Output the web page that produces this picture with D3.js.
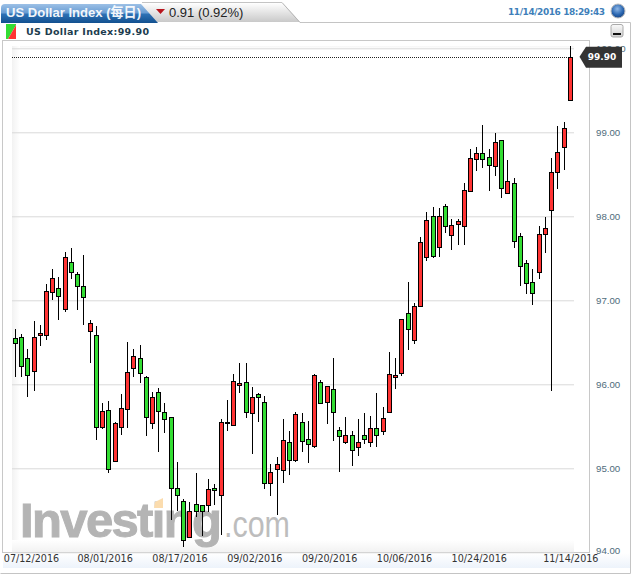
<!DOCTYPE html>
<html><head><meta charset="utf-8">
<script src="https://cdn.jsdelivr.net/npm/d3@7/dist/d3.min.js"></script>
<style>html,body{margin:0;padding:0;background:#fff;overflow:hidden}svg{display:block}</style>
</head><body><svg id="c" width="634" height="575"></svg>
<script>
const title = "US Dollar Index (每日)";
const changeText = "0.91 (0.92%)";
const stamp = "11/14/2016 18:29:43";
const legendText = "US Dollar Index:99.90";
const lastPrice = 99.90;
const yTicks = [94,95,96,97,98,99,100];
const dateLabels = ["07/12/2016","08/01/2016","08/17/2016","09/02/2016","09/20/2016","10/06/2016","10/24/2016","11/14/2016"];
const dateIndex = [0,14,26,38,50,62,74,89];
const opens = [96.548,96.560,96.310,96.155,96.590,96.590,97.095,97.143,96.893,97.452,97.310,97.167,96.638,96.583,95.488,95.698,95.083,95.488,95.702,96.190,96.310,96.083,95.536,95.905,95.667,95.607,94.762,94.607,94.179,94.571,94.560,94.560,94.762,94.679,95.536,95.519,95.988,96.024,95.655,95.881,95.786,94.821,94.988,94.976,95.310,95.095,95.548,95.345,95.262,96.024,95.786,95.940,95.452,95.310,95.393,95.250,95.393,95.310,95.476,95.440,95.667,96.083,96.138,96.845,96.524,96.929,97.512,98.000,97.631,98.119,97.774,97.905,97.881,98.298,98.679,98.750,98.702,98.595,98.905,98.274,98.393,97.762,97.440,97.214,97.333,97.786,98.071,98.524,98.821,99.381];
const highs = [96.658,96.599,96.420,96.750,96.710,97.190,97.369,97.277,97.575,97.619,97.333,97.539,96.765,96.698,95.774,95.805,95.551,95.881,96.500,96.420,96.468,96.099,95.912,95.960,95.774,95.611,95.079,94.631,94.599,94.940,94.563,94.869,94.813,95.583,95.810,96.119,96.250,96.250,95.971,95.893,95.861,95.048,95.138,95.583,95.448,95.670,95.662,95.563,96.119,96.051,95.980,96.310,95.488,95.607,95.440,95.583,95.662,95.619,95.893,95.726,96.388,96.310,96.777,97.218,96.964,97.750,98.048,98.114,98.095,98.143,97.964,97.964,98.393,98.798,98.821,99.083,98.801,98.995,98.908,98.667,98.452,97.798,97.480,97.376,97.881,97.988,98.690,99.071,99.123,100.024];
const lows = [96.083,96.090,95.845,95.924,96.452,96.531,97.007,96.769,96.864,97.250,96.888,96.710,96.254,95.333,95.468,94.940,95.079,95.396,95.483,96.090,96.019,95.385,95.464,95.190,95.424,94.385,94.492,94.060,94.179,94.424,94.198,94.476,94.563,94.206,95.444,95.515,95.893,95.595,95.174,95.555,94.757,94.674,94.444,94.825,94.924,95.071,95.190,95.060,95.238,95.774,95.531,95.325,94.952,95.286,95.024,95.143,95.286,95.250,95.250,95.393,95.667,95.940,96.102,96.408,96.480,96.929,97.471,97.507,97.519,97.798,97.595,97.655,97.655,98.298,98.536,98.571,98.305,98.476,98.214,98.274,97.619,97.174,97.071,96.940,97.250,97.560,95.920,98.321,98.548,99.381];
const closes = [96.488,96.214,96.107,96.560,96.611,97.107,97.262,97.048,97.512,97.333,97.167,97.036,96.726,95.488,95.679,94.988,95.536,95.714,96.143,96.340,96.131,95.607,95.845,95.679,95.590,94.762,94.686,94.143,94.488,94.495,94.495,94.750,94.738,95.548,95.551,96.036,96.012,95.667,95.845,95.845,94.821,94.952,95.048,95.333,95.095,95.643,95.321,95.286,96.107,95.774,95.976,95.667,95.381,95.393,95.214,95.310,95.345,95.476,95.393,95.595,96.119,96.107,96.774,96.655,96.929,97.690,97.952,97.524,98.000,97.881,97.893,97.940,98.310,98.690,98.750,98.679,98.607,98.881,98.333,98.417,97.702,97.405,97.202,97.083,97.786,97.857,98.524,98.762,99.048,99.893];

const svg = d3.select("#c");
const defs = svg.append("defs");
function grad(id, stops, horiz){
  const g = defs.append("linearGradient").attr("id",id).attr("x1",0).attr("y1",0).attr("x2",horiz?1:0).attr("y2",horiz?0:1);
  stops.forEach(s=>g.append("stop").attr("offset",s[0]).attr("stop-color",s[1]));
}
grad("blue",[[0,"#9cc0e6"],[.45,"#6b9ed4"],[.55,"#2d70b4"],[1,"#12508f"]]);
grad("gray",[[0,"#ffffff"],[1,"#c9c9c9"]]);
grad("left",[[0,"#f2f2f2"],[1,"#ffffff"]],true);
grad("top",[[0,"#f6f6f6"],[1,"#ffffff"]]);
grad("bottom",[[0,"#ffffff"],[1,"#f2f2f2"]]);
grad("foot",[[0,"#ffffff"],[1,"#edf3fb"]]);
grad("btn",[[0,"#fafafa"],[1,"#cfcfcf"]]);
const globe = defs.append("radialGradient").attr("id","globe").attr("cx",.45).attr("cy",.35).attr("r",.7);
globe.append("stop").attr("offset",0).attr("stop-color","#8fb8e8");
globe.append("stop").attr("offset",.6).attr("stop-color","#2a66b0");
globe.append("stop").attr("offset",1).attr("stop-color","#123f7e");

const left=12, right=574, plotL=2.5, plotR=589.5, plotT=40.5, plotB=552.5;
const x = d3.scaleLinear().domain([0,89]).range([15.3,570.3]);
const y = d3.scaleLinear().domain([94,100]).range([552.3,48.3]);

// frame
svg.append("path").attr("d","M300,22.5H630.5V573.5H0.5").attr("fill","none").attr("stroke","#c4c4c4");
svg.append("rect").attr("x",3).attr("y",553).attr("width",627).attr("height",15).attr("fill","url(#foot)");
svg.append("path").attr("d","M142,3 L282,3 Q284,3 286,6 L300,22 L142,22Z").attr("fill","url(#gray)");
svg.append("path").attr("d","M282,2.5 L300,22.5").attr("stroke","#b5b5b5").attr("fill","none");
svg.append("path").attr("d","M142,2.5H282").attr("stroke","#c4c4c4");
svg.append("path").attr("d","M1,8 Q1,4 5,4 L141,4 L158,23 L1,23Z").attr("fill","url(#blue)");
svg.append("text").attr("x",6).attr("y",16.5).attr("fill","#fff").attr("font-family","'Liberation Sans','Noto Sans CJK SC',sans-serif").attr("font-weight","bold").attr("font-size",13.5).attr("textLength",135).attr("lengthAdjust","spacingAndGlyphs").style("opacity",.92).text(title);
svg.append("path").attr("d","M156,9H165L160.5,14Z").attr("fill","#b8141c");
svg.append("text").attr("x",169).attr("y",16.5).attr("fill","#222").attr("font-family","'Liberation Sans',sans-serif").attr("font-size",13).text(changeText);
svg.append("text").attr("x",508).attr("y",15).attr("fill","#3f7fba").attr("font-family","'DejaVu Sans',sans-serif").attr("font-weight","bold").attr("font-size",9).attr("textLength",97).text(stamp);
svg.append("circle").attr("cx",618).attr("cy",11).attr("r",7).attr("fill","url(#globe)").attr("stroke","#bbb");

// legend
svg.append("path").attr("d","M6,24H16V25L8,39H6Z").attr("fill","#33dd33");
svg.append("path").attr("d","M16,25V39H8Z").attr("fill","#ff3333");
svg.append("text").attr("x",26).attr("y",35).attr("fill","#203c4e").attr("font-family","'DejaVu Sans',sans-serif").attr("font-weight","bold").attr("font-size",9.5).attr("textLength",123).text(legendText);

// plot
svg.append("rect").attr("x",plotL).attr("y",plotT).attr("width",plotR-plotL).attr("height",plotB-plotT).attr("fill","#fff").attr("stroke","#c8c8c8");
svg.append("rect").attr("x",left).attr("y",46).attr("width",562).attr("height",3).attr("fill","url(#top)");
svg.append("rect").attr("x",left).attr("y",46).attr("width",8).attr("height",506).attr("fill","url(#left)");
svg.append("rect").attr("x",left).attr("y",540).attr("width",562).attr("height",12).attr("fill","url(#bottom)");

// watermark
const wm = svg.append("g");
wm.append("text").attr("x",20).attr("y",537).attr("fill","#b4b4b4").attr("stroke","#b4b4b4").attr("stroke-width",1).attr("font-family","'Liberation Sans',sans-serif").attr("font-weight","bold").attr("font-size",49).attr("textLength",202).attr("lengthAdjust","spacing").text("Investing");
wm.append("path").attr("d","M155,502L163,498V508H154Z").attr("fill","#fbdcae");
wm.append("text").attr("x",224).attr("y",537).attr("fill","#bdbdbd").attr("font-family","'Liberation Sans',sans-serif").attr("font-size",37).attr("textLength",66).attr("lengthAdjust","spacingAndGlyphs").text(".com");

// right axis with gridlines
const yAxis = d3.axisRight(y).tickValues(yTicks).tickFormat(d3.format(".2f")).tickSize(0).tickPadding(0);
const gy = svg.append("g").attr("transform","translate(596,0)").call(yAxis);
gy.select(".domain").remove();
gy.selectAll("text").attr("fill","#4f6c7c").attr("font-family","'Liberation Sans',sans-serif").attr("font-size",9.7).attr("dy","0.32em");
gy.selectAll(".tick").filter(d=>d===94).select("text").attr("dy","0.1em");
const grid = d3.axisLeft(y).tickValues(yTicks).tickSize(562).tickFormat("");
const gg = svg.append("g").attr("transform","translate(574,0)").call(grid);
gg.select(".domain").remove();
gg.selectAll("line").attr("stroke","#d9d9d9").attr("stroke-width",1);

// price line
svg.append("line").attr("x1",left).attr("x2",x(89)).attr("y1",Math.round(y(lastPrice))+.5).attr("y2",Math.round(y(lastPrice))+.5).attr("stroke","#222").attr("stroke-dasharray","1,1");

// candles
const idx = d3.range(closes.length);
const cg = svg.append("g");
const snap = v => Math.round(v)+.5;
const cx = i => Math.floor(x(i))+.5;
cg.selectAll("line").data(idx).join("line")
  .attr("x1",cx).attr("x2",cx)
  .attr("y1",i=>Math.round(y(highs[i]))).attr("y2",i=>Math.round(y(lows[i])))
  .attr("stroke","#000");
cg.selectAll("rect").data(idx).join("rect")
  .attr("x",i=>cx(i)-2).attr("width",4)
  .attr("y",i=>snap(y(Math.max(opens[i],closes[i]))))
  .attr("height",i=>Math.max(1,snap(y(Math.min(opens[i],closes[i])))-snap(y(Math.max(opens[i],closes[i])))))
  .attr("fill",i=>closes[i]>=opens[i]?"#ff3333":"#33dd33")
  .attr("stroke","#000");

// price tag
const ty = y(lastPrice);
svg.append("path").attr("d",`M579.5,${ty} L586,${ty-10} H622 V${ty+11} H586Z`).attr("fill","#333");
svg.append("text").attr("x",602).attr("y",ty).attr("dy","0.36em").attr("text-anchor","middle").attr("fill","#fff").attr("font-family","'DejaVu Sans',sans-serif").attr("font-weight","bold").attr("font-size",9).text(d3.format(".2f")(lastPrice));

// minimise button
svg.append("rect").attr("x",611).attr("y",24.5).attr("width",12).attr("height",12.5).attr("rx",2).attr("fill","url(#btn)").attr("stroke","#aaa");
svg.append("rect").attr("x",613).attr("y",33).attr("width",8).attr("height",2).attr("fill","#111");

// date axis
const xAxis = d3.axisBottom(x).tickValues(dateIndex).tickFormat((d,i)=>dateLabels[i]).tickSize(0).tickPadding(0);
const gx = svg.append("g").attr("transform","translate(2,555)").call(xAxis);
gx.select(".domain").remove();
gx.selectAll("text").attr("fill","#333").attr("font-family","'DejaVu Sans',sans-serif").attr("font-size",9.6).attr("dy","0.75em");
gx.selectAll(".tick").filter(d=>d===0).select("text").attr("text-anchor","start").attr("dx",-14);
gx.selectAll(".tick").filter(d=>d===89).select("text").attr("dx",-2);
</script></body></html>
